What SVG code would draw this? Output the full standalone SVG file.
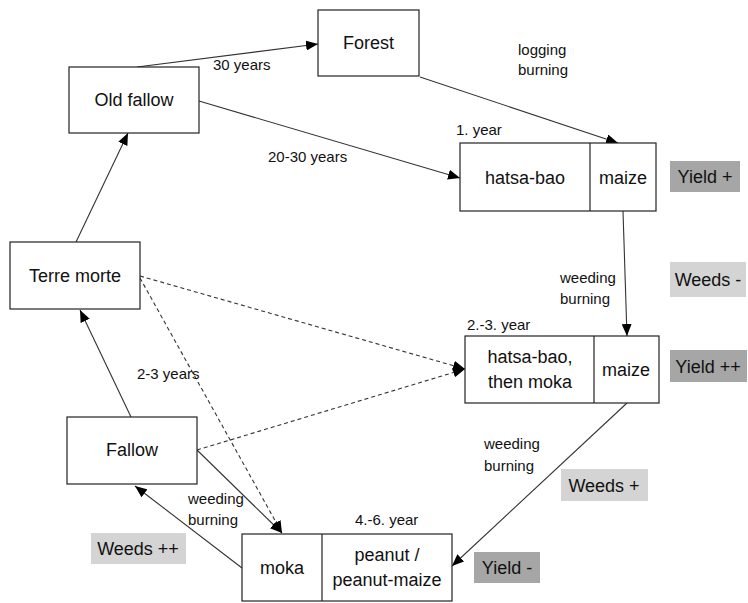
<svg xmlns="http://www.w3.org/2000/svg" width="748" height="603" viewBox="0 0 748 603">
<defs>
<marker id="ah" viewBox="0 0 12 10" refX="12" refY="5" markerWidth="12" markerHeight="10" markerUnits="userSpaceOnUse" orient="auto">
<path d="M0,0 L12,5 L0,10 z" fill="#000"/>
</marker>
</defs>
<style>
.box{fill:#fff;stroke:#222;stroke-width:1.2}
.t{font-family:"Liberation Sans",Arial,sans-serif;font-size:18px;fill:#111;text-anchor:middle}
.e{font-family:"Liberation Sans",Arial,sans-serif;font-size:15px;fill:#111}
.c{fill:none;stroke:#333;stroke-width:1.1}
.d{fill:none;stroke:#333;stroke-width:1.1;stroke-dasharray:4,3}
.y{fill:#a6a6a6}
.w{fill:#d4d4d4}
</style>
<rect width="748" height="603" fill="#fff"/>
<g id="connectors">
<path class="c" d="M137,67 L318,44" marker-end="url(#ah)"/>
<path class="c" d="M199,101 L460,178" marker-end="url(#ah)"/>
<path class="c" d="M420,77 L618,143" marker-end="url(#ah)"/>
<path class="c" d="M623,211 L627,336" marker-end="url(#ah)"/>
<path class="c" d="M627,403 L452,566" marker-end="url(#ah)"/>
<path class="c" d="M242,568 L135,486" marker-end="url(#ah)"/>
<path class="c" d="M197,450 L282,533" marker-end="url(#ah)"/>
<path class="c" d="M131,417 L80,310" marker-end="url(#ah)"/>
<path class="c" d="M76,242 L128,133" marker-end="url(#ah)"/>
<path class="d" d="M140,276 L465,369" marker-end="url(#ah)"/>
<path class="d" d="M197,450 L465,369" marker-end="url(#ah)"/>
<path class="d" d="M140,278 L282,533" marker-end="url(#ah)"/>
<text class="e" x="213" y="70">30 years</text>
<text class="e" x="268" y="162">20-30 years</text>
<text class="e" x="518" y="55">logging</text>
<text class="e" x="518" y="75">burning</text>
<text class="e" x="560" y="283">weeding</text>
<text class="e" x="560" y="304">burning</text>
<text class="e" x="484" y="449">weeding</text>
<text class="e" x="484" y="471">burning</text>
<text class="e" x="188" y="504">weeding</text>
<text class="e" x="188" y="525">burning</text>
<text class="e" x="137" y="379">2-3 years</text>
</g>
<g id="forest">
<rect class="box" x="318" y="10" width="101" height="66"/>
<text class="t" x="368.5" y="49">Forest</text>
</g>
<g id="old-fallow">
<rect class="box" x="69" y="67" width="130" height="66"/>
<text class="t" x="134" y="106">Old fallow</text>
</g>
<g id="terre-morte">
<rect class="box" x="10" y="242" width="130" height="67"/>
<text class="t" x="75" y="282">Terre morte</text>
</g>
<g id="fallow">
<rect class="box" x="67" y="417" width="130" height="67"/>
<text class="t" x="132" y="456">Fallow</text>
</g>
<g id="year1">
<text class="e" x="456" y="135">1. year</text>
<rect class="box" x="460" y="143" width="196" height="68"/>
<line x1="590" y1="143" x2="590" y2="211" stroke="#222" stroke-width="1.2"/>
<text class="t" x="525" y="184">hatsa-bao</text>
<text class="t" x="623" y="184">maize</text>
</g>
<g id="year2-3">
<text class="e" x="467" y="330">2.-3. year</text>
<rect class="box" x="465" y="336" width="194" height="67"/>
<line x1="594" y1="336" x2="594" y2="403" stroke="#222" stroke-width="1.2"/>
<text class="t" x="530" y="363">hatsa-bao,</text>
<text class="t" x="530" y="388">then moka</text>
<text class="t" x="626" y="376">maize</text>
</g>
<g id="year4-6">
<text class="e" x="355" y="525">4.-6. year</text>
<rect class="box" x="242" y="534" width="210" height="67"/>
<line x1="322" y1="534" x2="322" y2="601" stroke="#222" stroke-width="1.2"/>
<text class="t" x="282" y="574">moka</text>
<text class="t" x="387" y="561">peanut /</text>
<text class="t" x="387" y="586">peanut-maize</text>
</g>
<g id="yield-plus">
<rect class="y" x="670" y="161" width="70" height="31"/>
<text class="t" x="705" y="183">Yield +</text>
</g>
<g id="weeds-minus">
<rect class="w" x="670" y="262" width="76" height="35"/>
<text class="t" x="708" y="286">Weeds -</text>
</g>
<g id="yield-plusplus">
<rect class="y" x="670" y="350" width="77" height="32"/>
<text class="t" x="708" y="373">Yield ++</text>
</g>
<g id="weeds-plus">
<rect class="w" x="561" y="469" width="87" height="32"/>
<text class="t" x="604" y="492">Weeds +</text>
</g>
<g id="yield-minus">
<rect class="y" x="474" y="552" width="66" height="31"/>
<text class="t" x="507" y="574">Yield -</text>
</g>
<g id="weeds-plusplus">
<rect class="w" x="91" y="533" width="95" height="31"/>
<text class="t" x="138" y="555">Weeds ++</text>
</g>
</svg>
